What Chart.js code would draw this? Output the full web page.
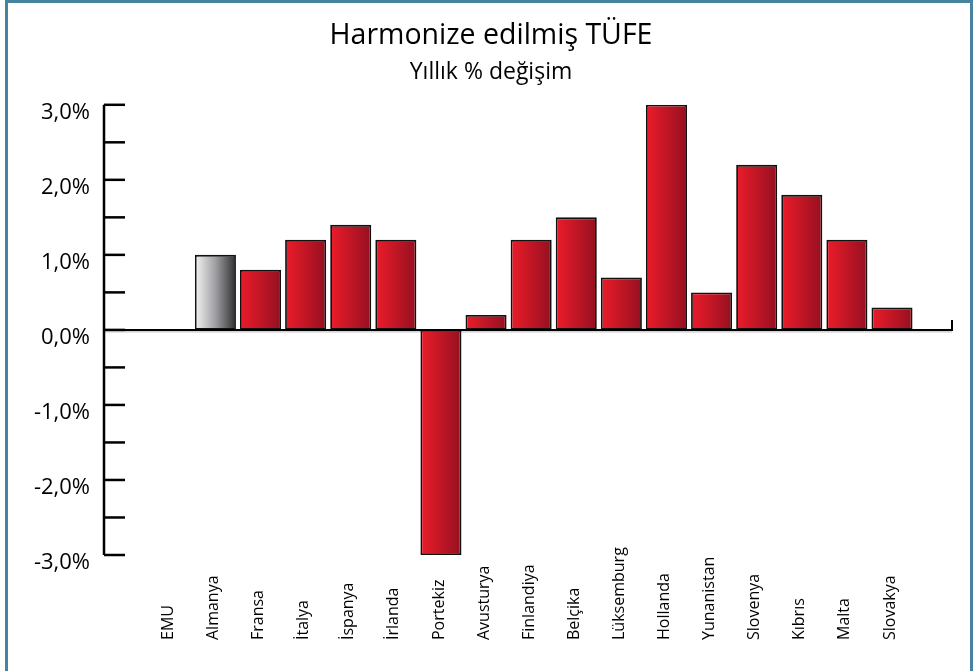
<!DOCTYPE html>
<html>
<head>
<meta charset="utf-8">
<script src="https://cdn.jsdelivr.net/npm/chart.js@4"></script>
<style>
  body{margin:0;background:#fff;}
  #wrap{position:relative;width:979px;height:671px;overflow:hidden;}
  #frame{position:absolute;left:5px;top:0;width:962px;height:690px;border:3px solid #45849c;pointer-events:none;}
  canvas{position:absolute;left:0;top:0;}
</style>
</head>
<body>
<div id="wrap">
  <canvas id="chart" width="979" height="671"></canvas>
  <div id="frame"></div>
</div>
<script>
// ==========================
// DATA
// ==========================
const countries = ["EMU","Almanya","Fransa","İtalya","İspanya","İrlanda","Portekiz","Avusturya",
  "Finlandiya","Belçika","Lüksemburg","Hollanda","Yunanistan","Slovenya","Kıbrıs","Malta","Slovakya"];
const inflation = [0, 1.0, 0.8, 1.2, 1.4, 1.2, -3.0, 0.2, 1.2, 1.5, 0.7, 3.0, 0.5, 2.2, 1.8, 1.2, 0.3];
const yTickValues = [-3, -2.5, -2, -1.5, -1, -0.5, 0, 0.5, 1, 1.5, 2, 2.5, 3];
const yTickLabels = {"-3":"-3,0%","-2":"-2,0%","-1":"-1,0%","0":"0,0%","1":"1,0%","2":"2,0%","3":"3,0%"};

const BAR_PCT = 0.91;

// horizontal gradient for each bar, from the x scale
function barFill(ctx){
  const chart = ctx.chart;
  const xs = chart.scales.x;
  if(!xs || !chart.chartArea || ctx.dataIndex === undefined) return "#d81e2b";
  const cx = xs.getPixelForValue(ctx.dataIndex);
  const half = Math.abs(xs.getPixelForValue(1) - xs.getPixelForValue(0)) * BAR_PCT / 2;
  const g = chart.ctx.createLinearGradient(cx - half, 0, cx + half, 0);
  if(countries[ctx.dataIndex] === "Almanya"){
    g.addColorStop(0, "#f4f4f4");
    g.addColorStop(0.5, "#a0a0a4");
    g.addColorStop(1, "#2e2e30");
  } else {
    g.addColorStop(0, "#ec1c2a");
    g.addColorStop(1, "#951020");
  }
  return g;
}

// ==========================
// AXES PLUGIN (ticks inside, zero line)
// ==========================
const axesPlugin = {
  id: "axesPlugin",
  beforeDatasetsDraw(chart){
    // light shadow under the zero line
    const {ctx, chartArea, scales} = chart;
    const y0 = scales.y.getPixelForValue(0);
    ctx.save();
    ctx.strokeStyle = "#b8b8b8";
    ctx.lineWidth = 1;
    ctx.beginPath();
    ctx.moveTo(chartArea.left, y0 + 2);
    ctx.lineTo(chartArea.right, y0 + 2);
    ctx.stroke();
    ctx.restore();
  },
  afterDatasetsDraw(chart){
    const {ctx, chartArea, scales} = chart;
    const y = scales.y;
    ctx.save();
    ctx.strokeStyle = "#000";
    ctx.lineWidth = 2.5;
    // y axis line
    ctx.beginPath();
    ctx.moveTo(chartArea.left, y.getPixelForValue(3));
    ctx.lineTo(chartArea.left, y.getPixelForValue(-3));
    ctx.stroke();
    // tick marks
    yTickValues.forEach(v => {
      const py = y.getPixelForValue(v);
      ctx.beginPath();
      ctx.moveTo(chartArea.left, py);
      ctx.lineTo(chartArea.left + 21, py);
      ctx.stroke();
    });
    // zero line with small end tick
    const y0 = y.getPixelForValue(0);
    ctx.lineWidth = 2;
    ctx.beginPath();
    ctx.moveTo(chartArea.left, y0);
    ctx.lineTo(chartArea.right, y0);
    ctx.lineTo(chartArea.right, y0 - 10);
    ctx.stroke();
    ctx.restore();
  },
  afterDraw(chart){
    // rotated category labels, bottom aligned
    const {ctx, scales} = chart;
    const x = scales.x;
    ctx.save();
    ctx.fillStyle = "#000";
    ctx.font = "16px 'Open Sans', sans-serif";
    ctx.textAlign = "left";
    ctx.textBaseline = "middle";
    countries.forEach((c, i) => {
      ctx.save();
      ctx.translate(x.getPixelForValue(i) - 2, 640);
      ctx.rotate(-Math.PI / 2);
      ctx.fillText(c, 0, 0);
      ctx.restore();
    });
    ctx.restore();
  }
};

// ==========================
// CHART
// ==========================
new Chart(document.getElementById("chart"), {
  type: "bar",
  data: {
    datasets: [{
      data: inflation.map((v, i) => ({x: i, y: v})),
      backgroundColor: barFill,
      borderColor: "#111",
      borderWidth: 1.8,
      borderSkipped: false,
      barPercentage: BAR_PCT,
      categoryPercentage: 1
    }]
  },
  options: {
    responsive: false,
    animation: false,
    layout: {padding: {left: 30, right: 27, top: 0, bottom: 108}},
    plugins: {
      legend: {display: false},
      tooltip: {enabled: false},
      title: {
        display: true,
        text: "Harmonize edilmiş TÜFE",
        color: "#000",
        font: {family: "'Open Sans', sans-serif", size: 28.5, weight: "normal"},
        padding: {top: 19, bottom: 3}
      },
      subtitle: {
        display: true,
        text: "Yıllık % değişim",
        color: "#000",
        font: {family: "'Open Sans', sans-serif", size: 23, weight: "normal"},
        padding: {top: 2, bottom: 19}
      }
    },
    scales: {
      x: {
        type: "linear",
        offset: false,
        min: -1.47,
        max: 17.33,
        grid: {display: false, offset: false},
        border: {display: false},
        ticks: {display: false}
      },
      y: {
        min: -3,
        max: 3,
        afterFit(scale){ scale.width = 74; },
        afterBuildTicks(scale){ scale.ticks = yTickValues.map(v => ({value: v})); },
        grid: {display: false},
        border: {display: false},
        ticks: {
          color: "#000",
          padding: 6,
          labelOffset: 8,
          font: {family: "'Open Sans', sans-serif", size: 22},
          callback: v => yTickLabels[String(v)] || ""
        }
      }
    }
  },
  plugins: [axesPlugin]
});
</script>
</body>
</html>
